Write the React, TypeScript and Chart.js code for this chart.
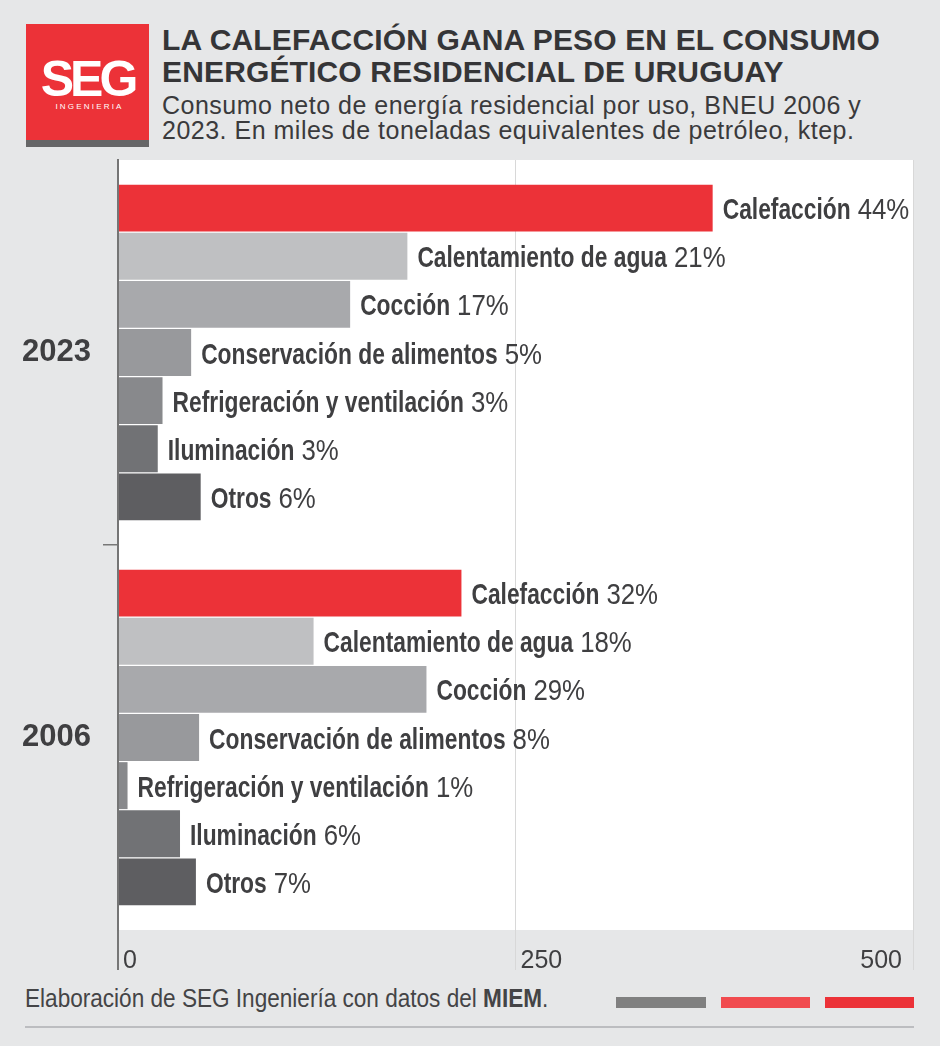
import React, { useEffect, useRef } from 'react';
import { Chart, registerables } from 'chart.js';

Chart.register(...registerables);

const years = ['2023', '2006'];
const usos = [
  'Calefacción',
  'Calentamiento de agua',
  'Cocción',
  'Conservación de alimentos',
  'Refrigeración y ventilación',
  'Iluminación',
  'Otros',
];
const valores2023 = [374, 182, 146, 46, 28, 25, 52];
const valores2006 = [216, 123, 194, 51, 6, 39, 49];
const pct2023 = ['44%', '21%', '17%', '5%', '3%', '3%', '6%'];
const pct2006 = ['32%', '18%', '29%', '8%', '1%', '6%', '7%'];
const colores = ['#ec3238', '#bfc0c2', '#a8a9ac', '#98999c', '#88898c', '#717275', '#5e5e61'];
const xTicks = [0, 250, 500];

const BG = '#e6e7e8';
const TEXT = '#3f3f41';

const chartBg = {
  id: 'chartBg',
  beforeDraw(chart: any) {
    const { ctx, chartArea: a } = chart;
    ctx.save();
    ctx.fillStyle = '#ffffff';
    ctx.fillRect(a.left, a.top, a.right - a.left, a.bottom - a.top);
    ctx.restore();
  },
};

const tickFix = {
  id: 'tickFix',
  beforeDraw(chart: any) {
    const sc = chart.scales.x;
    if (!sc || typeof sc.getLabelItems !== 'function') return;
    const items = sc.getLabelItems(chart.chartArea);
    items.forEach((it: any, i: number) => {
      if (it._fixed || !it.options || !it.options.translation) return;
      it._fixed = true;
      const o = it.options;
      if (i === items.length - 1) {
        o.textAlign = 'right';
        o.translation[0] -= 11;
      } else {
        o.textAlign = 'left';
        o.translation[0] += 5;
      }
    });
  },
};

function drawScaled(ctx: CanvasRenderingContext2D, text: string, x: number, y: number, font: string, sx: number) {
  ctx.save();
  ctx.font = font;
  ctx.translate(x, y);
  ctx.scale(sx, 1);
  ctx.fillText(text, 0, 0);
  const w = ctx.measureText(text).width * sx;
  ctx.restore();
  return w;
}

const barLabels = {
  id: 'barLabels',
  afterDatasetsDraw(chart: any) {
    const { ctx } = chart;
    ctx.save();
    ctx.textBaseline = 'alphabetic';
    ctx.textAlign = 'left';
    ctx.fillStyle = TEXT;
    chart.data.datasets.forEach((ds: any, di: number) => {
      const meta = chart.getDatasetMeta(di);
      meta.data.forEach((bar: any, i: number) => {
        const pct = (i === 0 ? pct2023 : pct2006)[di];
        const x = bar.x + 10;
        const y = bar.y + 11;
        const w = drawScaled(ctx, usos[di], x, y, 'bold 30px "Liberation Sans"', 0.76);
        drawScaled(ctx, pct, x + w + 7, y, '30px "Liberation Sans"', 0.86);
      });
    });
    ctx.restore();
  },
};

function ChartCanvas() {
  const ref = useRef<HTMLCanvasElement | null>(null);
  useEffect(() => {
    if (!ref.current) return;
    const chart = new Chart(ref.current, {
      type: 'bar',
      data: {
        labels: years,
        datasets: usos.map((u, i) => ({
          label: u,
          data: [valores2023[i], valores2006[i]],
          backgroundColor: colores[i],
          borderWidth: 0,
          categoryPercentage: 0.875,
          barPercentage: 0.975,
        })),
      },
      options: {
        indexAxis: 'y',
        responsive: false,
        animation: false,
        layout: { padding: { top: 160, left: 0, right: 27, bottom: 76 } },
        plugins: {
          legend: { display: false },
          tooltip: { enabled: false },
        },
        scales: {
          x: {
            type: 'linear',
            min: 0,
            max: 500,
            afterBuildTicks: (s: any) => {
              s.ticks = xTicks.map((v) => ({ value: v }));
            },
            afterFit: (s: any) => {
              s.height = 40;
            },
            border: { display: false },
            grid: {
              color: (c: any) => (c.index === 0 ? '#777777' : '#d8d8d8'),
              lineWidth: (c: any) => (c.index === 0 ? 2 : 1),
              tickLength: 40,
              drawOnChartArea: true,
            },
            ticks: {
              align: 'inner',
              padding: -24,
              color: TEXT,
              font: { family: '"Liberation Sans"', size: 25 },
              maxRotation: 0,
            },
          },
          y: {
            type: 'category',
            position: 'left',
            afterFit: (s: any) => {
              s.width = 118;
            },
            border: { display: true, color: '#757575', width: 2 },
            grid: {
              offset: true,
              drawOnChartArea: false,
              tickLength: 15,
              color: (c: any) => (c.index === 1 ? '#777777' : 'rgba(0,0,0,0)'),
              lineWidth: 1.5,
            },
            ticks: {
              padding: 12,
              color: TEXT,
              font: { family: '"Liberation Sans"', size: 31, weight: 'bold' },
            },
          },
        },
      },
      plugins: [chartBg, tickFix, barLabels],
    } as any);
    return () => chart.destroy();
  }, []);
  return (
    <canvas
      ref={ref}
      width={940}
      height={1046}
      style={{ position: 'absolute', left: 0, top: 0, width: 940, height: 1046 }}
    />
  );
}

export default function App() {
  useEffect(() => {
    document.body.style.margin = '0';
  }, []);
  return (
    <div
      style={{
        position: 'relative',
        width: 940,
        height: 1046,
        background: BG,
        overflow: 'hidden',
        fontFamily: '"Liberation Sans", sans-serif',
        color: TEXT,
      }}
    >
      {/* Logo */}
      <div style={{ position: 'absolute', left: 26, top: 24, width: 123, height: 123, background: '#ec3238' }}>
        <div style={{ position: 'absolute', left: 0, bottom: 0, width: '100%', height: 7, background: '#666667' }} />
        <div
          style={{
            position: 'absolute',
            left: 0,
            width: 123,
            top: 96 - 24 - 0.8465 * 50,
            fontSize: 50,
            lineHeight: '50px',
            fontWeight: 700,
            letterSpacing: -4,
            textAlign: 'center',
            color: '#ffffff',
            whiteSpace: 'nowrap',
          }}
        >
          SEG
        </div>
        <div
          style={{
            position: 'absolute',
            left: 2,
            width: 123,
            top: 109.5 - 24 - 0.8465 * 8,
            fontSize: 8,
            lineHeight: '8px',
            letterSpacing: 2.2,
            textAlign: 'center',
            color: '#ffffff',
            whiteSpace: 'nowrap',
          }}
        >
          INGENIERIA
        </div>
      </div>

      {/* Title */}
      <div
        style={{
          position: 'absolute',
          left: 162,
          top: 50 - (32 - 1.117 * 30) / 2 - 0.905 * 30,
          fontSize: 30,
          lineHeight: '32px',
          fontWeight: 700,
          letterSpacing: 0.15,
          color: '#353537',
          whiteSpace: 'nowrap',
        }}
      >
        LA CALEFACCIÓN GANA PESO EN EL CONSUMO
        <br />
        ENERGÉTICO RESIDENCIAL DE URUGUAY
      </div>

      {/* Subtitle */}
      <div
        style={{
          position: 'absolute',
          left: 162,
          top: 114 - (25 - 1.117 * 25) / 2 - 0.905 * 25,
          fontSize: 25,
          lineHeight: '25px',
          letterSpacing: 0.5,
          color: '#3a3a3c',
          whiteSpace: 'nowrap',
        }}
      >
        Consumo neto de energía residencial por uso, BNEU 2006 y
        <br />
        2023. En miles de toneladas equivalentes de petróleo, ktep.
      </div>

      {/* Footer */}
      <div
        style={{
          position: 'absolute',
          left: 25,
          top: 1007 - 0.8465 * 25,
          fontSize: 25,
          lineHeight: '25px',
          color: '#444446',
          whiteSpace: 'nowrap',
          transform: 'scaleX(0.903)',
          transformOrigin: 'left top',
        }}
      >
        Elaboración de SEG Ingeniería con datos del <b>MIEM</b>.
      </div>
      <div style={{ position: 'absolute', left: 616, top: 997, width: 90, height: 11, background: '#808080' }} />
      <div style={{ position: 'absolute', left: 721, top: 997, width: 89, height: 11, background: '#f14b4f' }} />
      <div style={{ position: 'absolute', left: 825, top: 997, width: 89, height: 11, background: '#ec3238' }} />
      <div style={{ position: 'absolute', left: 25, top: 1026, width: 889, height: 2, background: '#bcbdc0' }} />

      <ChartCanvas />
    </div>
  );
}
